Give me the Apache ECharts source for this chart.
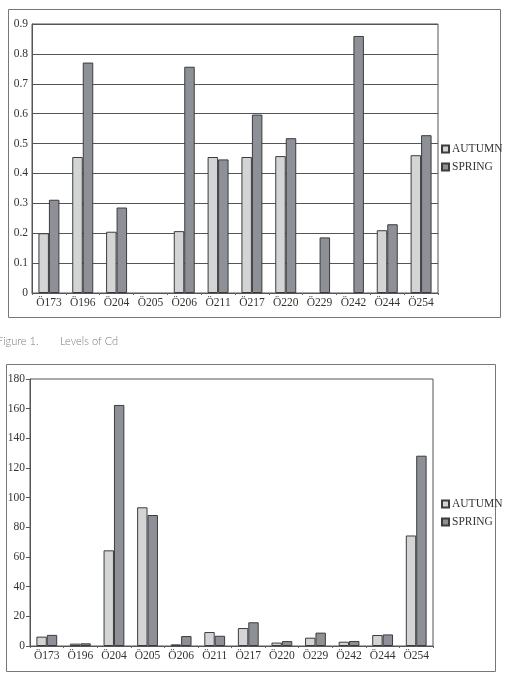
<!DOCTYPE html>
<html>
<head>
<meta charset="utf-8">
<script src="https://cdn.jsdelivr.net/npm/echarts@6/dist/echarts.min.js"></script>
<style>
  html, body { margin: 0; padding: 0; background: #fff; }
  #chart { width: 506px; height: 685px; }
</style>
</head>
<body>
<div id="chart"></div>
<script>
const stations = ['Ö173', 'Ö196', 'Ö204', 'Ö205', 'Ö206', 'Ö211', 'Ö217', 'Ö220', 'Ö229', 'Ö242', 'Ö244', 'Ö254']

// top chart (Cd)
const cdAutumn = [0.20, 0.455, 0.205, '-', 0.207, 0.455, 0.455, 0.458, '-', '-', 0.21, 0.461]
const cdSpring = [0.312, 0.771, 0.286, '-', 0.757, 0.447, 0.597, 0.518, 0.186, 0.86, 0.23, 0.528]
const cdTicks = ['0', '0.1', '0.2', '0.3', '0.4', '0.5', '0.6', '0.7', '0.8', '0.9']

// bottom chart
const lowAutumn = [6.3, 1.6, 64.5, 93.5, 1.1, 9.4, 12.1, 2.3, 5.6, 2.9, 7.4, 74.5]
const lowSpring = [7.5, 1.8, 162.5, 88.3, 6.7, 6.9, 16, 3.3, 9, 3.4, 7.8, 128.3]
const lowTicks = ['0', '20', '40', '60', '80', '100', '120', '140', '160', '180']

const autumnColor = '#d3d4d6'
const springColor = '#8d9197'
const edge = '#3c3c3c'
const serif = "'Liberation Serif', 'Times New Roman', serif"

const chart = echarts.init(document.getElementById('chart'))

function bar(name, data, color, idx) {
  return {
    name,
    type: 'bar',
    xAxisIndex: idx,
    yAxisIndex: idx,
    data,
    barGap: 0,
    barCategoryGap: '38%',
    itemStyle: { color, borderColor: edge, borderWidth: 1 },
  }
}

function xAxis(idx) {
  return {
    type: 'category',
    gridIndex: idx,
    data: stations,
    axisLine: { lineStyle: { color: '#555', width: 1 } },
    axisTick: { show: true, length: 2, lineStyle: { color: '#666' } },
    axisLabel: { fontFamily: serif, fontSize: 11.5, color: '#333', margin: 4, interval: 0 },
  }
}

function legend(top) {
  return {
    orient: 'vertical',
    left: 441,
    top,
    padding: 0,
    itemWidth: 7,
    itemHeight: 7,
    itemGap: 6,
    icon: 'rect',
    textStyle: { fontFamily: serif, fontSize: 11.5, color: '#333', padding: [0, 0, 0, -2] },
    data: ['AUTUMN', 'SPRING'],
  }
}

chart.setOption({
  backgroundColor: '#fff',
  animation: false,
  grid: [
    { left: 32, top: 24, width: 406, height: 269, show: true, borderColor: '#555', borderWidth: 1 },
    { left: 30, top: 379, width: 403, height: 267, show: true, borderColor: '#555', borderWidth: 1 },
  ],
  legend: [legend(143), legend(498)],
  xAxis: [xAxis(0), xAxis(1)],
  yAxis: [
    {
      type: 'value',
      gridIndex: 0,
      min: 0,
      max: 0.9,
      interval: 0.1,
      axisLine: { show: true, lineStyle: { color: '#555' } },
      axisTick: { show: false },
      splitLine: { lineStyle: { color: '#555', width: 1 } },
      axisLabel: {
        fontFamily: serif, fontSize: 11.5, color: '#333', margin: 4,
        formatter: (v) => cdTicks[Math.round(v * 10)],
      },
    },
    {
      type: 'value',
      gridIndex: 1,
      min: 0,
      max: 180,
      interval: 20,
      axisLine: { show: true, lineStyle: { color: '#555' } },
      axisTick: { show: true, length: 4, lineStyle: { color: '#555' } },
      splitLine: { show: false },
      axisLabel: {
        fontFamily: serif, fontSize: 11.5, color: '#333', margin: 5,
        formatter: (v) => lowTicks[Math.round(v / 20)],
      },
    },
  ],
  series: [
    bar('AUTUMN', cdAutumn, autumnColor, 0),
    bar('SPRING', cdSpring, springColor, 0),
    bar('AUTUMN', lowAutumn, autumnColor, 1),
    bar('SPRING', lowSpring, springColor, 1),
  ],
  graphic: [
    { type: 'rect', shape: { x: 8.5, y: 9.5, width: 492, height: 308 }, style: { fill: 'none', stroke: '#777', lineWidth: 1 }, silent: true },
    { type: 'rect', shape: { x: 6.5, y: 364.5, width: 489, height: 307 }, style: { fill: 'none', stroke: '#777', lineWidth: 1 }, silent: true },
    { type: 'text', left: -3, top: 336, style: { text: 'Figure 1.', font: '300 11px Lato', fill: '#7a7a7a' } },
    { type: 'text', left: 60, top: 336, style: { text: 'Levels of Cd', font: '300 11px Lato', fill: '#7a7a7a' } },
  ],
})
</script>
</body>
</html>
